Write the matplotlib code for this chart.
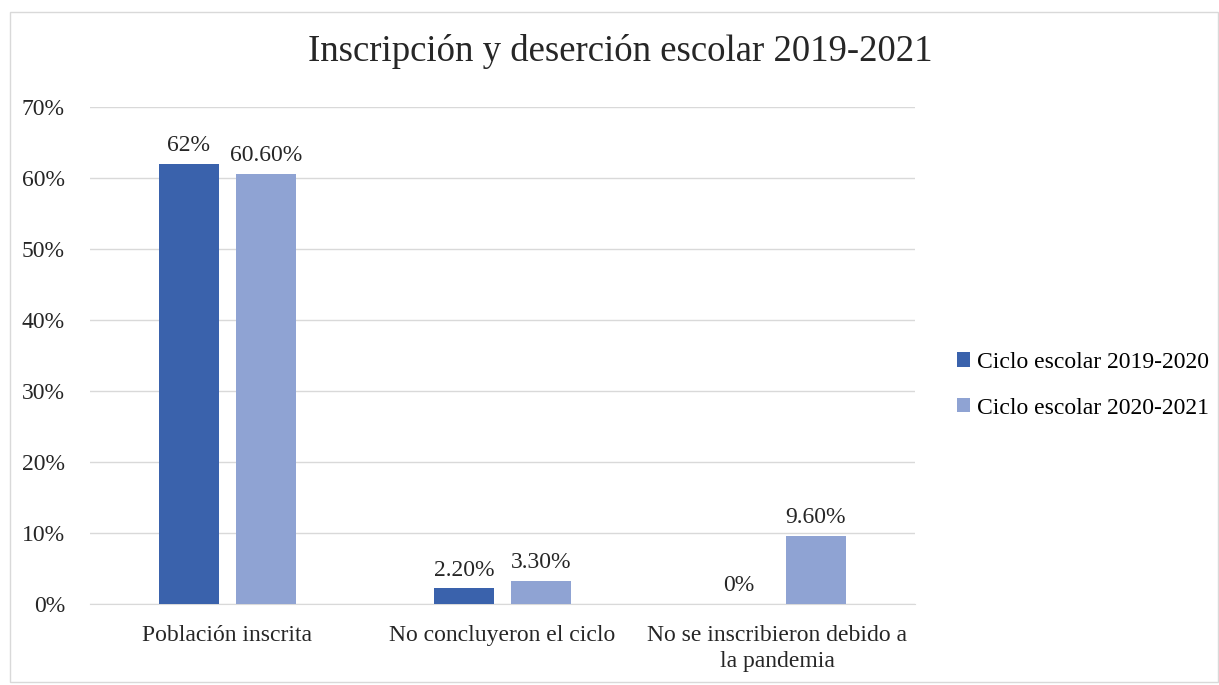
import matplotlib.pyplot as plt
import numpy as np
from matplotlib.patches import Rectangle

# data
categorias = ['Población inscrita', 'No concluyeron el ciclo',
              'No se inscribieron debido a\nla pandemia']
serie_2019 = [0.62, 0.022, 0.0]
serie_2020 = [0.606, 0.033, 0.096]
etiq_2019 = ['62%', '2.20%', '0%']
etiq_2020 = ['60.60%', '3.30%', '9.60%']
nombres = ['Ciclo escolar 2019-2020', 'Ciclo escolar 2020-2021']

plt.rcParams['font.family'] = ['Liberation Serif', 'DejaVu Serif']

fig = plt.figure(figsize=(12.19, 6.85), dpi=100)
ax = fig.add_axes([0.0738, 0.1182, 0.6768, 0.7256])

# figure border
fig.patches.append(Rectangle((10/1219, 0.005), 1 - 10/1219 - 0.001, 1 - 12/685 - 0.005,
                             transform=fig.transFigure, fill=False,
                             edgecolor='#D9D9D9', linewidth=1))

x = np.arange(len(categorias))
w = 0.215
off = 0.14
c1 = '#3A62AC'
c2 = '#8FA3D3'
ax.bar(x - off, serie_2019, w, color=c1, label=nombres[0], zorder=3)
ax.bar(x + off, serie_2020, w, color=c2, label=nombres[1], zorder=3)

fs = 17
for i in range(len(categorias)):
    ax.text(x[i] - off, serie_2019[i] + 0.011, etiq_2019[i], ha='center', va='bottom',
            fontsize=fs, color='#262626')
    ax.text(x[i] + off, serie_2020[i] + 0.011, etiq_2020[i], ha='center', va='bottom',
            fontsize=fs, color='#262626')

ax.set_xlim(-0.5, 2.5)
ax.set_ylim(0, 0.7)
ax.set_yticks(np.arange(0, 0.71, 0.1))
ax.set_yticklabels([f'{int(round(v*100))}%' for v in np.arange(0, 0.71, 0.1)])
ax.set_xticks(x)
ax.set_xticklabels(categorias, linespacing=1.3)
ax.tick_params(axis='both', length=0, labelsize=fs, colors='#262626')
ax.tick_params(axis='y', pad=18)
ax.tick_params(axis='x', pad=15)
ax.yaxis.grid(True, color='#D9D9D9', linewidth=1, zorder=0)
for s in ['top', 'right', 'left']:
    ax.spines[s].set_visible(False)
ax.spines['bottom'].set_color('#D9D9D9')

fig.text(0.5085, 0.925, 'Inscripción y deserción escolar 2019-2021', ha='center',
         va='center', fontsize=26.5, color='#262626')

ax.legend(loc='center left', bbox_to_anchor=(1.025, 0.44), frameon=False,
          fontsize=fs, handlelength=0.55, handleheight=0.55, handletextpad=0.3,
          labelspacing=1.05)

fig.savefig('out.png', dpi=100)
